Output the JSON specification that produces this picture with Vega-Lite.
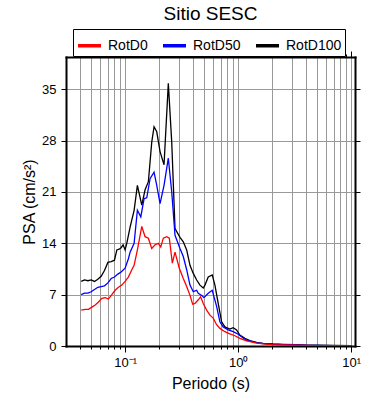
{
  "$schema": "https://vega.github.io/schema/vega-lite/v6.json",
  "autosize": {"type": "none"},
  "padding": {"left": 66, "top": 57, "right": 35, "bottom": 54},
  "width": 289,
  "height": 289,
  "background": "white",
  "config": {
    "view": {"stroke": null},
    "font": "Liberation Sans",
    "axis": {"labelFont": "Liberation Sans", "titleFont": "Liberation Sans", "labelColor": "black", "titleColor": "black", "tickColor": "black", "domainColor": "black", "domainWidth": 2, "domainCap": "square", "titleFontWeight": "normal"}
  },
  "title": {"text": "Sitio SESC", "fontSize": 19, "font": "Liberation Sans", "fontWeight": "normal", "anchor": "middle", "offset": 5, "color": "black"},
  "data": {"values": [
    {"s":"RotD100","T":0.0409,"v":8.8},{"s":"RotD100","T":0.0437,"v":9.0},{"s":"RotD100","T":0.0469,"v":8.9},{"s":"RotD100","T":0.0501,"v":9.0},{"s":"RotD100","T":0.0536,"v":8.8},{"s":"RotD100","T":0.0574,"v":9.1},{"s":"RotD100","T":0.0614,"v":9.5},{"s":"RotD100","T":0.0657,"v":10.3},{"s":"RotD100","T":0.0704,"v":11.4},{"s":"RotD100","T":0.0753,"v":11.5},{"s":"RotD100","T":0.0805,"v":11.7},{"s":"RotD100","T":0.0845,"v":13.1},{"s":"RotD100","T":0.0885,"v":13.2},{"s":"RotD100","T":0.0922,"v":13.4},{"s":"RotD100","T":0.096,"v":13.8},{"s":"RotD100","T":0.1,"v":13.1},{"s":"RotD100","T":0.1041,"v":14.2},{"s":"RotD100","T":0.1107,"v":16.2},{"s":"RotD100","T":0.1201,"v":18.5},{"s":"RotD100","T":0.1284,"v":21.9},{"s":"RotD100","T":0.1404,"v":19.2},{"s":"RotD100","T":0.1502,"v":21.3},{"s":"RotD100","T":0.1606,"v":22.4},{"s":"RotD100","T":0.172,"v":27.8},{"s":"RotD100","T":0.1803,"v":29.9},{"s":"RotD100","T":0.1905,"v":29.2},{"s":"RotD100","T":0.2037,"v":26.5},{"s":"RotD100","T":0.2209,"v":24.7},{"s":"RotD100","T":0.2411,"v":35.8},{"s":"RotD100","T":0.2584,"v":27.8},{"s":"RotD100","T":0.2763,"v":16.0},{"s":"RotD100","T":0.3058,"v":14.8},{"s":"RotD100","T":0.327,"v":14.2},{"s":"RotD100","T":0.3504,"v":13.1},{"s":"RotD100","T":0.3748,"v":11.0},{"s":"RotD100","T":0.4008,"v":9.9},{"s":"RotD100","T":0.4295,"v":9.0},{"s":"RotD100","T":0.4592,"v":8.3},{"s":"RotD100","T":0.491,"v":7.9},{"s":"RotD100","T":0.5083,"v":8.3},{"s":"RotD100","T":0.5436,"v":9.4},{"s":"RotD100","T":0.5896,"v":9.7},{"s":"RotD100","T":0.6228,"v":8.3},{"s":"RotD100","T":0.666,"v":5.8},{"s":"RotD100","T":0.7137,"v":3.3},{"s":"RotD100","T":0.7632,"v":2.6},{"s":"RotD100","T":0.8162,"v":2.4},{"s":"RotD100","T":0.8448,"v":2.3},{"s":"RotD100","T":0.9034,"v":2.5},{"s":"RotD100","T":0.9675,"v":2.2},{"s":"RotD100","T":1.035,"v":1.5},{"s":"RotD100","T":1.146,"v":1.05},{"s":"RotD100","T":1.268,"v":0.73},{"s":"RotD100","T":1.453,"v":0.5},{"s":"RotD100","T":1.663,"v":0.37},{"s":"RotD100","T":2.037,"v":0.27},{"s":"RotD100","T":2.496,"v":0.22},{"s":"RotD100","T":3.277,"v":0.18},{"s":"RotD100","T":4,"v":0.12},{"s":"RotD100","T":5,"v":0.1},{"s":"RotD100","T":7,"v":0.07},{"s":"RotD100","T":10,"v":0.05},
    {"s":"RotD50","T":0.0409,"v":7.0},{"s":"RotD50","T":0.0437,"v":7.2},{"s":"RotD50","T":0.0469,"v":7.2},{"s":"RotD50","T":0.0501,"v":7.4},{"s":"RotD50","T":0.0536,"v":7.7},{"s":"RotD50","T":0.0574,"v":8.0},{"s":"RotD50","T":0.0614,"v":8.1},{"s":"RotD50","T":0.0657,"v":8.2},{"s":"RotD50","T":0.0704,"v":8.6},{"s":"RotD50","T":0.0753,"v":9.2},{"s":"RotD50","T":0.0805,"v":9.4},{"s":"RotD50","T":0.0862,"v":9.8},{"s":"RotD50","T":0.0922,"v":10.1},{"s":"RotD50","T":0.1,"v":10.6},{"s":"RotD50","T":0.1069,"v":11.9},{"s":"RotD50","T":0.1107,"v":12.8},{"s":"RotD50","T":0.1201,"v":14.0},{"s":"RotD50","T":0.1284,"v":18.5},{"s":"RotD50","T":0.1376,"v":17.6},{"s":"RotD50","T":0.1472,"v":20.1},{"s":"RotD50","T":0.1554,"v":20.2},{"s":"RotD50","T":0.1662,"v":22.8},{"s":"RotD50","T":0.1803,"v":23.7},{"s":"RotD50","T":0.1905,"v":21.9},{"s":"RotD50","T":0.2037,"v":19.4},{"s":"RotD50","T":0.2209,"v":21.9},{"s":"RotD50","T":0.2411,"v":25.6},{"s":"RotD50","T":0.2584,"v":21.0},{"s":"RotD50","T":0.2763,"v":15.1},{"s":"RotD50","T":0.3058,"v":13.3},{"s":"RotD50","T":0.327,"v":12.2},{"s":"RotD50","T":0.3504,"v":10.4},{"s":"RotD50","T":0.3748,"v":8.3},{"s":"RotD50","T":0.4008,"v":7.4},{"s":"RotD50","T":0.4295,"v":7.6},{"s":"RotD50","T":0.4436,"v":7.2},{"s":"RotD50","T":0.4753,"v":6.9},{"s":"RotD50","T":0.4981,"v":6.6},{"s":"RotD50","T":0.5436,"v":7.2},{"s":"RotD50","T":0.5896,"v":7.6},{"s":"RotD50","T":0.6447,"v":5.4},{"s":"RotD50","T":0.6894,"v":3.3},{"s":"RotD50","T":0.7373,"v":2.6},{"s":"RotD50","T":0.8162,"v":2.2},{"s":"RotD50","T":0.9034,"v":1.95},{"s":"RotD50","T":1.0,"v":1.6},{"s":"RotD50","T":1.107,"v":1.1},{"s":"RotD50","T":1.186,"v":0.8},{"s":"RotD50","T":1.453,"v":0.45},{"s":"RotD50","T":1.663,"v":0.33},{"s":"RotD50","T":2.037,"v":0.24},{"s":"RotD50","T":2.496,"v":0.19},{"s":"RotD50","T":3.277,"v":0.15},{"s":"RotD50","T":4,"v":0.1},{"s":"RotD50","T":5,"v":0.08},{"s":"RotD50","T":7,"v":0.06},{"s":"RotD50","T":10,"v":0.04},
    {"s":"RotD0","T":0.0409,"v":4.9},{"s":"RotD0","T":0.0444,"v":5.0},{"s":"RotD0","T":0.0474,"v":5.0},{"s":"RotD0","T":0.0508,"v":5.3},{"s":"RotD0","T":0.0544,"v":5.6},{"s":"RotD0","T":0.0581,"v":6.0},{"s":"RotD0","T":0.0623,"v":6.5},{"s":"RotD0","T":0.0666,"v":6.6},{"s":"RotD0","T":0.0712,"v":6.4},{"s":"RotD0","T":0.0763,"v":7.0},{"s":"RotD0","T":0.0816,"v":7.6},{"s":"RotD0","T":0.0873,"v":8.0},{"s":"RotD0","T":0.0935,"v":8.3},{"s":"RotD0","T":0.1,"v":8.8},{"s":"RotD0","T":0.1069,"v":9.4},{"s":"RotD0","T":0.1146,"v":10.4},{"s":"RotD0","T":0.1201,"v":11.0},{"s":"RotD0","T":0.1284,"v":13.1},{"s":"RotD0","T":0.1404,"v":16.3},{"s":"RotD0","T":0.1502,"v":14.9},{"s":"RotD0","T":0.1606,"v":14.7},{"s":"RotD0","T":0.172,"v":13.3},{"s":"RotD0","T":0.184,"v":13.8},{"s":"RotD0","T":0.1967,"v":14.0},{"s":"RotD0","T":0.2066,"v":13.5},{"s":"RotD0","T":0.2178,"v":14.7},{"s":"RotD0","T":0.2334,"v":14.9},{"s":"RotD0","T":0.246,"v":14.7},{"s":"RotD0","T":0.2616,"v":11.3},{"s":"RotD0","T":0.2763,"v":12.8},{"s":"RotD0","T":0.3015,"v":10.6},{"s":"RotD0","T":0.327,"v":9.2},{"s":"RotD0","T":0.3504,"v":8.1},{"s":"RotD0","T":0.3748,"v":6.9},{"s":"RotD0","T":0.3959,"v":5.7},{"s":"RotD0","T":0.4148,"v":5.8},{"s":"RotD0","T":0.4436,"v":6.3},{"s":"RotD0","T":0.4658,"v":6.7},{"s":"RotD0","T":0.491,"v":5.8},{"s":"RotD0","T":0.5262,"v":4.9},{"s":"RotD0","T":0.5626,"v":4.2},{"s":"RotD0","T":0.6017,"v":3.8},{"s":"RotD0","T":0.6447,"v":2.9},{"s":"RotD0","T":0.6894,"v":2.4},{"s":"RotD0","T":0.7632,"v":1.95},{"s":"RotD0","T":0.8448,"v":1.65},{"s":"RotD0","T":0.9352,"v":1.4},{"s":"RotD0","T":1.035,"v":1.05},{"s":"RotD0","T":1.186,"v":0.7},{"s":"RotD0","T":1.453,"v":0.4},{"s":"RotD0","T":1.663,"v":0.3},{"s":"RotD0","T":2.037,"v":0.2},{"s":"RotD0","T":2.496,"v":0.15},{"s":"RotD0","T":3.277,"v":0.12},{"s":"RotD0","T":4,"v":0.08},{"s":"RotD0","T":5,"v":0.06},{"s":"RotD0","T":7,"v":0.05},{"s":"RotD0","T":10,"v":0.03}
  ]},
  "layer": [
    {
      "mark": {"type": "line", "strokeWidth": 1.3, "clip": true},
      "encoding": {
        "x": {"field": "T", "type": "quantitative", "scale": {"type": "log", "domain": [0.03, 10.8], "nice": false},
          "axis": {"orient": "bottom", "title": "Periodo (s)", "titleFontSize": 16, "titlePadding": 6,
            "values": [0.04,0.05,0.06,0.07,0.08,0.09,0.1,0.2,0.3,0.4,0.5,0.6,0.7,0.8,0.9,1,2,3,4,5,6,7,8,9,10],
            "labelExpr": "datum.value == 0.1 ? '10⁻¹' : datum.value == 1 ? '10⁰' : datum.value == 10 ? '10¹' : ''",
            "labelFlush": false, "labelOverlap": false, "labelFontSize": 13, "labelPadding": 4,
            "tickSize": {"condition": {"test": "datum.value == 0.1 || datum.value == 1 || datum.value == 10", "value": 6}, "value": 3},
            "grid": true, "gridColor": "#999999", "gridWidth": 1}},
        "y": {"field": "v", "type": "quantitative", "scale": {"domain": [0, 39.4], "nice": false},
          "axis": {"orient": "left", "title": "PSA (cm/s²)", "titleFontSize": 16, "titlePadding": 4,
            "values": [0,7,14,21,28,35], "labelFontSize": 13, "labelPadding": 5, "tickSize": 5,
            "grid": true, "gridColor": "#999999", "gridWidth": 1}},
        "color": {"field": "s", "type": "nominal",
          "scale": {"domain": ["RotD0", "RotD50", "RotD100"], "range": ["#ff0000", "#0000ff", "#000000"]},
          "legend": {"orient": "none", "legendX": 7, "legendY": -28, "direction": "horizontal", "title": null,
            "symbolType": "stroke", "symbolSize": 529, "symbolStrokeWidth": 3.5, "labelFontSize": 14, "labelFont": "Liberation Sans",
            "labelOffset": 5, "columnPadding": 8, "padding": 3, "strokeColor": "black", "fillColor": "white", "labelColor": "black"}}
      }
    },
    {
      "mark": {"type": "line", "opacity": 0},
      "encoding": {
        "x": {"field": "T", "type": "quantitative",
          "axis": {"orient": "top", "title": null, "labels": false, "grid": false,
            "values": [0.04,0.05,0.06,0.07,0.08,0.09,0.1,0.2,0.3,0.4,0.5,0.6,0.7,0.8,0.9,1,2,3,4,5,6,7,8,9,10],
            "tickSize": {"condition": {"test": "datum.value == 0.1 || datum.value == 1 || datum.value == 10", "value": 6}, "value": 3}}},
        "y": {"field": "v", "type": "quantitative",
          "axis": {"orient": "right", "title": null, "labels": false, "grid": false, "values": [0,7,14,21,28,35], "tickSize": 5}},
        "detail": {"field": "s"}
      }
    }
  ],
  "resolve": {"axis": {"x": "independent", "y": "independent"}}
}
